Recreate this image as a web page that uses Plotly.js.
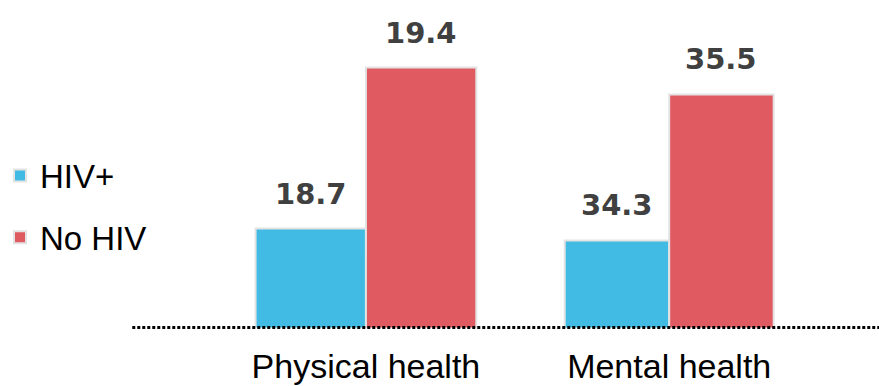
<!DOCTYPE html>
<html>
<head>
<meta charset="utf-8">
<script src="https://cdn.plot.ly/plotly-3.0.1.min.js"></script>
<style>html,body{margin:0;padding:0;background:#fff;}#chart{width:879px;height:386px;}</style>
</head>
<body>
<div id="chart"></div>
<script>
// ---- data ----
const categories = ['Physical health', 'Mental health'];
const seriesNames = ['HIV+', 'No HIV'];
const hivPos = [18.7, 34.3];
const noHiv = [19.4, 35.5];

// ---- style ----
const colors = ['#41BBE3', '#E05A62'];
const bargap = 0.26;
const axisRanges = [[18.27, 19.694], [33.585, 36.276]];
const xDomains = [[213/879, 513/879], [526/879, 810/879]];
const yBottom = (386 - 327.5) / 386;
const series = [hivPos, noHiv];

const traces = [];
const annotations = [];
categories.forEach((cat, i) => {
  const ax = i === 0 ? '' : String(i + 1);
  series.forEach((vals, s) => {
    traces.push({
      type: 'bar',
      name: seriesNames[s],
      legendgroup: seriesNames[s],
      showlegend: i === 0,
      x: [cat],
      y: [vals[i]],
      xaxis: 'x' + ax,
      yaxis: 'y' + ax,
      marker: {color: colors[s], line: {color: '#e3e3e3', width: 2}},
      hoverinfo: 'skip'
    });
    annotations.push({
      xref: 'x' + ax, yref: 'y' + ax,
      x: (s === 0 ? -1 : 1) * (1 - bargap) / 4,
      y: vals[i],
      text: vals[i].toFixed(1),
      showarrow: false,
      yanchor: 'bottom',
      yshift: 16,
      font: {family: 'DejaVu Sans', size: 29, color: '#404040', weight: 'bold'}
    });
  });
});

const xaxisBase = {
  type: 'category', range: [-0.5, 0.5], showgrid: false, zeroline: false, showline: false,
  ticks: '', ticklabelstandoff: 15, automargin: false,
  tickfont: {family: 'Liberation Sans, Arial, sans-serif', size: 34, color: '#000'}
};
const yaxisBase = {visible: false, showgrid: false, zeroline: false, fixedrange: true};

const layout = {
  width: 879, height: 386,
  margin: {l: 0, r: 0, t: 0, b: 0},
  paper_bgcolor: '#fff', plot_bgcolor: 'rgba(0,0,0,0)',
  barmode: 'group', bargap: bargap, bargroupgap: 0,
  xaxis: Object.assign({}, xaxisBase, {domain: xDomains[0], anchor: 'y'}),
  yaxis: Object.assign({}, yaxisBase, {domain: [yBottom, 1], range: axisRanges[0], anchor: 'x'}),
  xaxis2: Object.assign({}, xaxisBase, {domain: xDomains[1], anchor: 'y2'}),
  yaxis2: Object.assign({}, yaxisBase, {domain: [yBottom, 1], range: axisRanges[1], anchor: 'x2'}),
  showlegend: true,
  legend: {
    x: -0.006, xanchor: 'left', y: 0.618, yanchor: 'top',
    font: {family: 'Liberation Sans, Arial, sans-serif', size: 33, color: '#000'},
    tracegroupgap: 16, itemwidth: 30, bgcolor: 'rgba(0,0,0,0)', traceorder: 'grouped'
  },
  annotations: annotations,
  shapes: [{
    type: 'line', xref: 'paper', yref: 'paper',
    x0: 128/879, x1: 1, y0: yBottom, y1: yBottom,
    line: {color: '#000', width: 3, dash: '3px,2px'}
  }]
};

Plotly.newPlot('chart', traces, layout, {displayModeBar: false, staticPlot: true});
</script>
</body>
</html>
